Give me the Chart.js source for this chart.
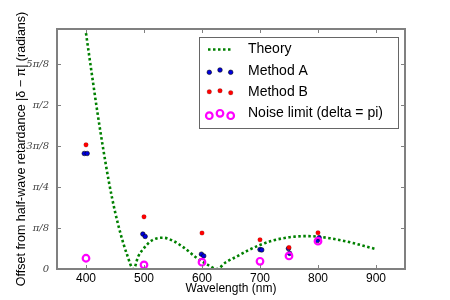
<!DOCTYPE html>
<html>
<head>
<meta charset="utf-8">
<script src="https://cdn.jsdelivr.net/npm/chart.js@4.4.1/dist/chart.umd.min.js"></script>
<style>
  html, body { margin: 0; padding: 0; background: #fff; }
  canvas { display: block; }
</style>
</head>
<body>
<canvas id="retardChart" width="450" height="300"></canvas>
<script>
// ==========================
// データ
// ==========================
const theoryWavelengths = [400, 410, 420, 430, 440, 450, 460, 470, 482, 490, 500, 510, 520, 533, 550, 570, 590, 610, 626, 640, 660, 680, 700, 720, 740, 760, 780, 800, 820, 840, 860, 880, 900];
const theoryOffsets     = [2.26, 1.87, 1.49, 1.14, 0.82, 0.55, 0.33, 0.15, 0.0, 0.12, 0.2, 0.26, 0.29, 0.30, 0.27, 0.2, 0.11, 0.04, 0.0, 0.06, 0.12, 0.18, 0.23, 0.27, 0.295, 0.31, 0.315, 0.31, 0.295, 0.275, 0.25, 0.22, 0.19];

const methodAWavelengths = [397, 402, 498, 502, 599, 603, 700, 703, 749, 751, 799, 802];
const methodAOffsets     = [1.107, 1.107, 0.335, 0.312, 0.142, 0.125, 0.186, 0.183, 0.196, 0.15, 0.273, 0.30];

const methodBWavelengths = [400, 500, 600, 700, 750, 800];
const methodBOffsets     = [1.19, 0.50, 0.345, 0.28, 0.206, 0.347];

const noiseWavelengths = [400, 500, 600, 700, 750, 800];
const noiseOffsets     = [0.103, 0.04, 0.065, 0.074, 0.125, 0.267];

const xTickValues = [400, 500, 600, 700, 800, 900];
const yTickValues = [0, 1, 2, 3, 4, 5].map(k => k * Math.PI / 8);
const yTickLabels = ["0", "π/8", "π/4", "3π/8", "π/2", "5π/8"];

const toPoints = (xs, ys) => xs.map((x, i) => ({ x, y: ys[i] }));

const SANS = "'Liberation Sans', Arial, sans-serif";
const GREEN = "#008000";
const BLUE = "#0000e0";
const RED = "#ff0000";
const MAGENTA = "#ff00ff";

// ==========================
// 枠と内向き目盛り（matplotlib風）
// ==========================
const framePlugin = {
  id: "mplFrame",
  afterDraw(chart) {
    const { ctx, chartArea: a, scales } = chart;
    ctx.save();
    ctx.strokeStyle = "#808080";
    ctx.lineWidth = 1;
    const len = 4;
    ctx.beginPath();
    xTickValues.forEach(v => {
      const px = Math.round(scales.x.getPixelForValue(v)) + 0.5;
      ctx.moveTo(px, a.bottom); ctx.lineTo(px, a.bottom - len);
      ctx.moveTo(px, a.top); ctx.lineTo(px, a.top + len);
    });
    yTickValues.forEach(v => {
      const py = Math.round(scales.y.getPixelForValue(v)) + 0.5;
      ctx.moveTo(a.left, py); ctx.lineTo(a.left + len, py);
      ctx.moveTo(a.right, py); ctx.lineTo(a.right - len, py);
    });
    ctx.stroke();
    ctx.lineWidth = 2;
    ctx.strokeRect(a.left, a.top, a.right - a.left, a.bottom - a.top);

    // 凡例
    const box = { x: 199.5, y: 37.5, w: 199, h: 91 };
    ctx.fillStyle = "#fff";
    ctx.fillRect(box.x, box.y, box.w, box.h);
    ctx.strokeStyle = "#666";
    ctx.lineWidth = 1;
    ctx.strokeRect(box.x, box.y, box.w, box.h);

    const sx = [209.3, 220, 230.7];
    ctx.strokeStyle = GREEN;
    ctx.lineWidth = 2.6;
    ctx.setLineDash([2.5, 2.5]);
    ctx.beginPath();
    ctx.moveTo(208, 49.5); ctx.lineTo(232, 49.5);
    ctx.stroke();
    ctx.setLineDash([]);

    const dot = (x, y, fill, edge) => {
      ctx.beginPath();
      ctx.arc(x, y, 2.3, 0, Math.PI * 2);
      ctx.fillStyle = fill;
      ctx.fill();
      ctx.lineWidth = 0.7;
      ctx.strokeStyle = edge;
      ctx.stroke();
    };
    [72.3, 70, 72.3].forEach((y, i) => dot(sx[i], y, BLUE, "rgba(0,0,0,0.8)"));
    [91.7, 90.7, 92.7].forEach((y, i) => dot(sx[i], y, RED, "rgba(0,0,0,0.25)"));
    ctx.strokeStyle = MAGENTA;
    ctx.lineWidth = 2.2;
    [115.7, 113.3, 115.7].forEach((y, i) => {
      ctx.beginPath();
      ctx.arc(sx[i], y, 3.3, 0, Math.PI * 2);
      ctx.stroke();
    });

    ctx.fillStyle = "#000";
    ctx.font = "14px " + SANS;
    ctx.textAlign = "left";
    ctx.textBaseline = "middle";
    const names = chart.data.datasets.map(d => d.label);
    [49.5, 71, 92, 113].forEach((y, i) => ctx.fillText(names[i], 248, y));
    ctx.restore();
  }
};

// ==========================
// グラフ表示
// ==========================
const ctx = document.getElementById("retardChart").getContext("2d");
new Chart(ctx, {
  type: "scatter",
  data: {
    datasets: [
      {
        label: "Theory",
        data: toPoints(theoryWavelengths, theoryOffsets),
        showLine: true,
        borderColor: GREEN,
        borderWidth: 2.6,
        borderDash: [2.5, 2.5],
        pointRadius: 0,
        cubicInterpolationMode: "monotone",
        order: 4
      },
      {
        label: "Method A",
        data: toPoints(methodAWavelengths, methodAOffsets),
        backgroundColor: BLUE,
        borderColor: "rgba(0,0,0,0.8)",
        borderWidth: 0.7,
        pointRadius: 2.3,
        order: 3
      },
      {
        label: "Method B",
        data: toPoints(methodBWavelengths, methodBOffsets),
        backgroundColor: RED,
        borderColor: "rgba(0,0,0,0.25)",
        borderWidth: 0.5,
        pointRadius: 2.3,
        order: 2
      },
      {
        label: "Noise limit (delta = pi)",
        data: toPoints(noiseWavelengths, noiseOffsets),
        backgroundColor: "rgba(0,0,0,0)",
        borderColor: MAGENTA,
        borderWidth: 2.2,
        pointRadius: 3.3,
        order: 1
      }
    ]
  },
  options: {
    responsive: false,
    animation: false,
    layout: { padding: { top: 29, right: 45, left: 0, bottom: 0 } },
    plugins: { legend: { display: false }, tooltip: { enabled: false } },
    scales: {
      x: {
        type: "linear",
        min: 350,
        max: 950,
        afterBuildTicks: s => { s.ticks = xTickValues.map(v => ({ value: v })); },
        afterFit: s => { s.height = 31; },
        grid: { display: false, drawTicks: false },
        border: { display: false },
        ticks: { color: "#000", padding: 2, font: { family: SANS, size: 12 } },
        title: {
          display: true,
          text: "Wavelength (nm)",
          color: "#000",
          padding: { top: 0, bottom: 4 },
          font: { family: SANS, size: 12 }
        }
      },
      y: {
        min: 0,
        max: 2.3,
        afterBuildTicks: s => { s.ticks = yTickValues.map(v => ({ value: v })); },
        afterFit: s => { s.width = 57; },
        grid: { display: false, drawTicks: false },
        border: { display: false },
        ticks: {
          color: "#444",
          padding: 8,
          font: { family: "'DejaVu Serif', serif", size: 10, style: "italic" },
          callback: v => {
            const i = yTickValues.findIndex(t => Math.abs(t - v) < 1e-6);
            return i >= 0 ? yTickLabels[i] : "";
          }
        },
        title: {
          display: true,
          text: "Offset from half-wave retardance |δ − π| (radians)",
          color: "#000",
          padding: { top: 14, bottom: 0 },
          font: { family: SANS, size: 12.5 }
        }
      }
    }
  },
  plugins: [framePlugin]
});
</script>
</body>
</html>
